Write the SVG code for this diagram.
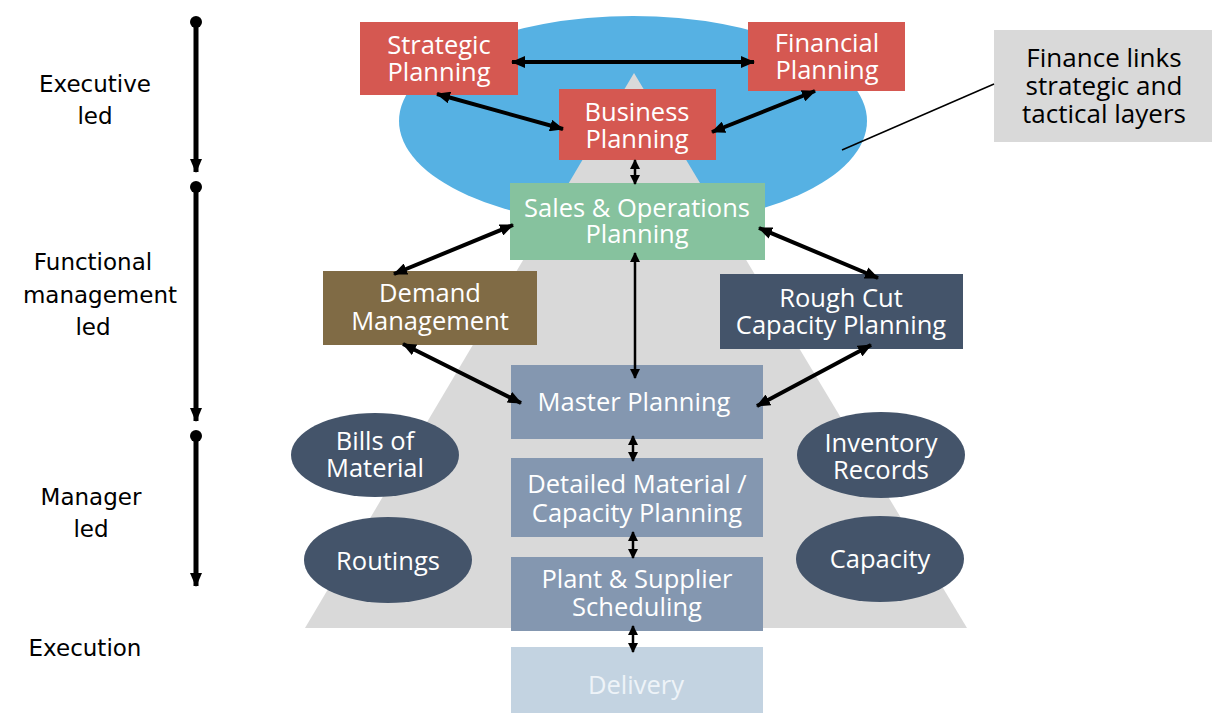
<svg xmlns="http://www.w3.org/2000/svg" width="1219" height="713" viewBox="0 0 1219 713">
  <style>
    .lbl { font-family: "Open Sans", "Noto Sans", "Liberation Sans", sans-serif; font-size: 25.5px; fill: #ffffff; text-anchor: middle; }
    .side { font-family: "DejaVu Sans", "Liberation Sans", sans-serif; font-size: 23px; fill: #000000; text-anchor: middle; }
    .note { font-family: "Open Sans", "Noto Sans", "Liberation Sans", sans-serif; font-size: 26px; fill: #000000; text-anchor: middle; }
    .red { fill: #d55851; }
    .slate { fill: #44546a; }
    .steel { fill: #8497b0; }
    .link { stroke: #000000; stroke-width: 4; fill: none; marker-start: url(#head); marker-end: url(#head); }
    .thin { stroke: #000000; stroke-width: 2.5; fill: none; marker-start: url(#headSmall); marker-end: url(#headSmall); }
    .axis { stroke: #000000; stroke-width: 5; fill: none; marker-end: url(#axisHead); }
  </style>
  <defs>
    <marker id="head" viewBox="0 0 14 12" refX="13" refY="6" markerWidth="14" markerHeight="12" markerUnits="userSpaceOnUse" orient="auto-start-reverse">
      <path d="M0,0 L14,6 L0,12 Z" fill="#000000"/>
    </marker>
    <marker id="headSmall" viewBox="0 0 10 10" refX="9" refY="5" markerWidth="10" markerHeight="10" markerUnits="userSpaceOnUse" orient="auto-start-reverse">
      <path d="M0,0 L10,5 L0,10 Z" fill="#000000"/>
    </marker>
    <marker id="axisHead" viewBox="0 0 14 12" refX="13" refY="6" markerWidth="14" markerHeight="12" markerUnits="userSpaceOnUse" orient="auto">
      <path d="M0,0 L14,6 L0,12 Z" fill="#000000"/>
    </marker>
  </defs>

  <!-- background shapes: strategic halo and planning pyramid -->
  <g id="backdrop">
    <ellipse cx="633" cy="121" rx="234" ry="105" fill="#56b1e3"/>
    <polygon points="634,73 967,628 305,628" fill="#d9d9d9"/>
  </g>

  <!-- leadership scale on the left -->
  <g id="scale">
    <circle cx="196" cy="22" r="6" fill="#000000"/>
    <line class="axis" x1="196" y1="22" x2="196" y2="172"/>
    <circle cx="196" cy="187" r="6" fill="#000000"/>
    <line class="axis" x1="196" y1="187" x2="196" y2="421"/>
    <circle cx="196" cy="436" r="6" fill="#000000"/>
    <line class="axis" x1="196" y1="436" x2="196" y2="586"/>
    <text class="side" x="95" y="92">Executive</text>
    <text class="side" x="95" y="124">led</text>
    <text class="side" x="93" y="270">Functional</text>
    <text class="side" x="100" y="303">management</text>
    <text class="side" x="93" y="335">led</text>
    <text class="side" x="91" y="505">Manager</text>
    <text class="side" x="91" y="537">led</text>
    <text class="side" x="85" y="656">Execution</text>
  </g>

  <g id="strategic">
    <rect class="red" x="360" y="22" width="158" height="73"/>
    <text class="lbl" x="439" y="54">Strategic</text>
    <text class="lbl" x="439" y="81">Planning</text>
  </g>
  <g id="financial">
    <rect class="red" x="748" y="22" width="157" height="69"/>
    <text class="lbl" x="827" y="52">Financial</text>
    <text class="lbl" x="827" y="79">Planning</text>
  </g>
  <g id="business">
    <rect class="red" x="559" y="89" width="157" height="71"/>
    <text class="lbl" x="637" y="121">Business</text>
    <text class="lbl" x="637" y="148">Planning</text>
  </g>
  <g id="sop">
    <rect x="510" y="183" width="255" height="77" fill="#86c29e"/>
    <text class="lbl" x="637" y="217">Sales &amp; Operations</text>
    <text class="lbl" x="637" y="243">Planning</text>
  </g>
  <g id="demand">
    <rect x="323" y="271" width="214" height="74" fill="#806b45"/>
    <text class="lbl" x="430" y="302">Demand</text>
    <text class="lbl" x="430" y="330">Management</text>
  </g>
  <g id="rough-cut">
    <rect class="slate" x="720" y="274" width="243" height="75"/>
    <text class="lbl" x="841" y="307">Rough Cut</text>
    <text class="lbl" x="841" y="334">Capacity Planning</text>
  </g>
  <g id="master">
    <rect class="steel" x="511" y="365" width="252" height="74"/>
    <text class="lbl" x="634" y="411">Master Planning</text>
  </g>
  <g id="detailed">
    <rect class="steel" x="511" y="458" width="252" height="79"/>
    <text class="lbl" x="637" y="493">Detailed Material /</text>
    <text class="lbl" x="637" y="522">Capacity Planning</text>
  </g>
  <g id="plant">
    <rect class="steel" x="511" y="557" width="252" height="74"/>
    <text class="lbl" x="637" y="588">Plant &amp; Supplier</text>
    <text class="lbl" x="637" y="616">Scheduling</text>
  </g>
  <g id="delivery">
    <rect x="511" y="647" width="252" height="66" fill="#c3d3e1"/>
    <text class="lbl" x="636" y="694" style="fill:#eef3f8">Delivery</text>
  </g>

  <g id="bills">
    <ellipse class="slate" cx="375" cy="455" rx="84" ry="42"/>
    <text class="lbl" x="375" y="450">Bills of</text>
    <text class="lbl" x="375" y="477">Material</text>
  </g>
  <g id="routings">
    <ellipse class="slate" cx="388" cy="560" rx="84" ry="43"/>
    <text class="lbl" x="388" y="570">Routings</text>
  </g>
  <g id="inventory">
    <ellipse class="slate" cx="881" cy="455" rx="84" ry="43"/>
    <text class="lbl" x="881" y="452">Inventory</text>
    <text class="lbl" x="881" y="479">Records</text>
  </g>
  <g id="capacity">
    <ellipse class="slate" cx="880" cy="559" rx="84" ry="43"/>
    <text class="lbl" x="880" y="568">Capacity</text>
  </g>

  <g id="finance-note">
    <rect x="994" y="30" width="218" height="112" fill="#d9d9d9"/>
    <text class="note" x="1104" y="67">Finance links</text>
    <text class="note" x="1104" y="95">strategic and</text>
    <text class="note" x="1104" y="123">tactical layers</text>
  </g>

  <!-- connectors, drawn over the boxes so the heads stay visible -->
  <g id="connectors">
    <line class="link" x1="512" y1="62" x2="754" y2="62"/>
    <line class="link" x1="437" y1="94" x2="563" y2="129"/>
    <line class="link" x1="815" y1="91" x2="712" y2="132"/>
    <line class="thin" x1="635" y1="160" x2="635" y2="184"/>
    <line class="link" x1="513" y1="225" x2="394" y2="274"/>
    <line class="link" x1="759" y1="228" x2="878" y2="278"/>
    <line class="thin" x1="635" y1="253" x2="635" y2="378"/>
    <line class="link" x1="403" y1="344" x2="521" y2="403"/>
    <line class="link" x1="871" y1="345" x2="757" y2="406"/>
    <line class="thin" x1="633" y1="436" x2="633" y2="461"/>
    <line class="thin" x1="633" y1="532" x2="633" y2="558"/>
    <line class="thin" x1="633" y1="626" x2="633" y2="652"/>
    <line x1="994" y1="84" x2="842" y2="150" stroke="#000000" stroke-width="1.5"/>
  </g>
</svg>
